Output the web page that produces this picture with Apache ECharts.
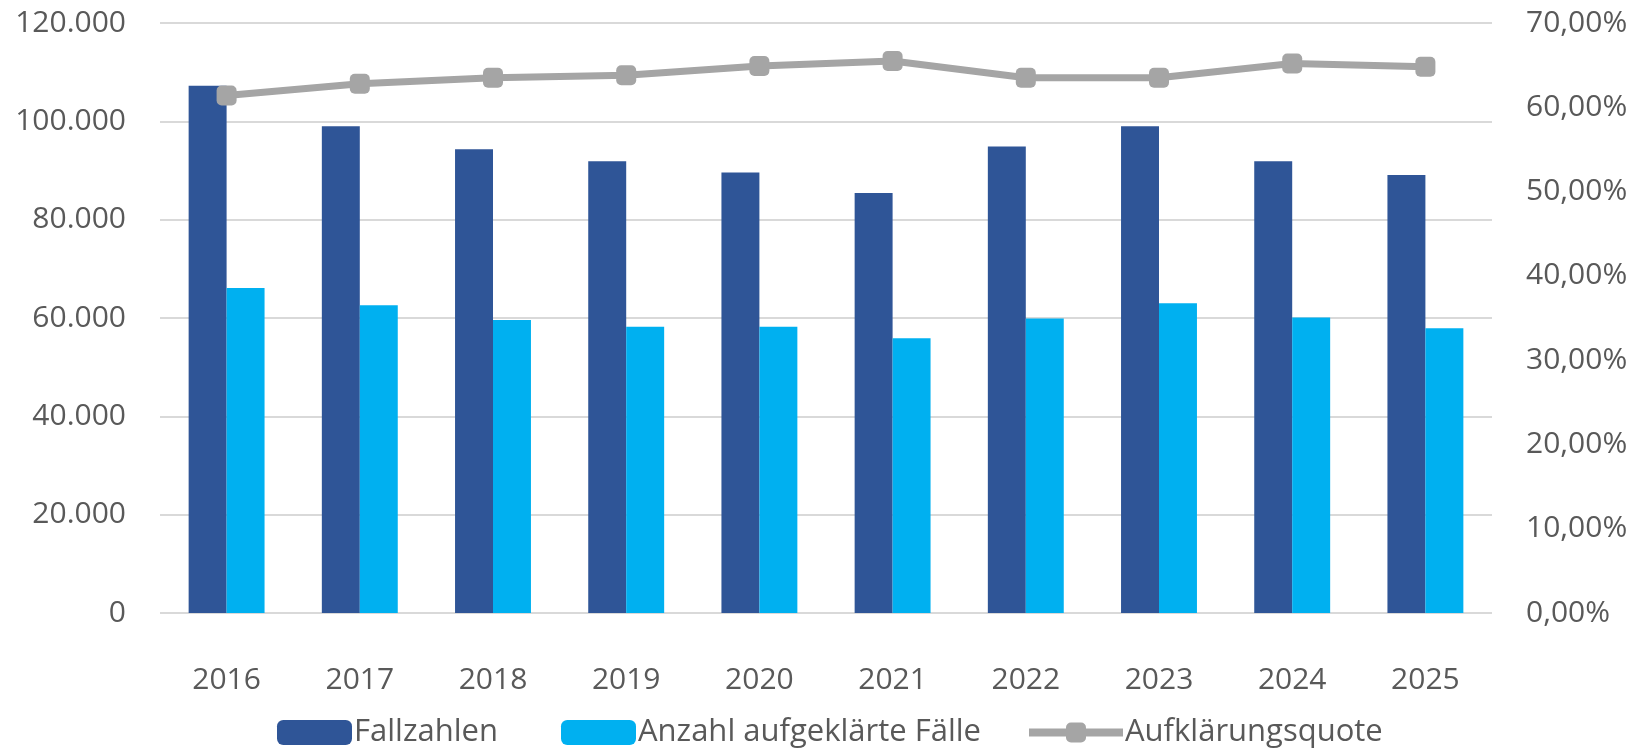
<!DOCTYPE html>
<html lang="de">

<head>
    <meta charset="UTF-8">
    <title>Fallzahlen</title>
    <script src="https://cdn.jsdelivr.net/npm/echarts@6/dist/echarts.min.js"></script>
    <style>
        body {
            margin: 0;
            background-color: #ffffff;
        }
    </style>
</head>

<body>
    <div id="main" style="width: 1637px;height:752px;"></div>
    <script type="text/javascript">
        // data
        let years = ['2016', '2017', '2018', '2019', '2020', '2021', '2022', '2023', '2024', '2025'];
        let fallzahlen = [107250, 99000, 94300, 91900, 89600, 85400, 94900, 99000, 91900, 89100];
        let aufgeklaert = [66100, 62600, 59600, 58200, 58200, 55900, 59900, 63000, 60100, 57900];
        let quote = [61.4, 62.8, 63.5, 63.8, 64.9, 65.5, 63.5, 63.5, 65.2, 64.8];

        let textColor = '#595959';
        let font = '"Open Sans", sans-serif';

        // 120000 -> "120.000"
        let germanNumber = (v) => String(v).replace(/\B(?=(\d{3})+(?!\d))/g, '.');

        // one legend per entry, Excel spaces them unevenly
        let legendBase = {
            top: 717,
            padding: 0,
            itemWidth: 75,
            itemHeight: 25,
            itemGap: 0,
            textStyle: { fontSize: 31, color: textColor, fontFamily: font, padding: [0, 0, 0, -3] }
        };

        let options = {
            animation: false,
            textStyle: { fontFamily: font },
            grid: { left: 160, right: 145, top: 23, bottom: 139 },
            legend: [
                Object.assign({}, legendBase, { left: 277, data: ['Fallzahlen'] }),
                Object.assign({}, legendBase, { left: 561, data: ['Anzahl aufgeklärte Fälle'] }),
                Object.assign({}, legendBase, {
                    left: 1025, itemWidth: 94, data: ['Aufklärungsquote'],
                    lineStyle: { width: 8 }
                })
            ],
            xAxis: {
                type: 'category',
                data: years,
                axisLine: { show: false },
                axisTick: { show: false },
                axisLabel: { fontSize: 30, color: textColor, margin: 52 }
            },
            yAxis: [{
                type: 'value',
                min: 0,
                max: 120000,
                interval: 20000,
                axisLine: { show: false },
                axisTick: { show: false },
                splitLine: { lineStyle: { color: '#D9D9D9', width: 2 } },
                axisLabel: { fontSize: 30, color: textColor, margin: 34, formatter: germanNumber }
            }, {
                type: 'value',
                min: 0,
                max: 70,
                interval: 10,
                position: 'right',
                axisLine: { show: false },
                axisTick: { show: false },
                splitLine: { show: false },
                axisLabel: {
                    fontSize: 30, color: textColor, margin: 34,
                    formatter: (v) => v.toFixed(2).replace('.', ',') + '%'
                }
            }],
            series: [{
                name: 'Fallzahlen',
                type: 'bar',
                data: fallzahlen,
                barGap: '0%',
                barCategoryGap: '43%',
                itemStyle: { color: '#2F5597' }
            }, {
                name: 'Anzahl aufgeklärte Fälle',
                type: 'bar',
                data: aufgeklaert,
                itemStyle: { color: '#00B0F0' }
            }, {
                name: 'Aufklärungsquote',
                type: 'line',
                yAxisIndex: 1,
                data: quote,
                symbol: 'roundRect',
                symbolSize: 20,
                z: 5,
                lineStyle: { color: '#A5A5A5', width: 7 },
                itemStyle: { color: '#A5A5A5' }
            }]
        };

        let myChart = echarts.init(document.getElementById('main'));
        myChart.setOption(options);
    </script>
</body>

</html>
